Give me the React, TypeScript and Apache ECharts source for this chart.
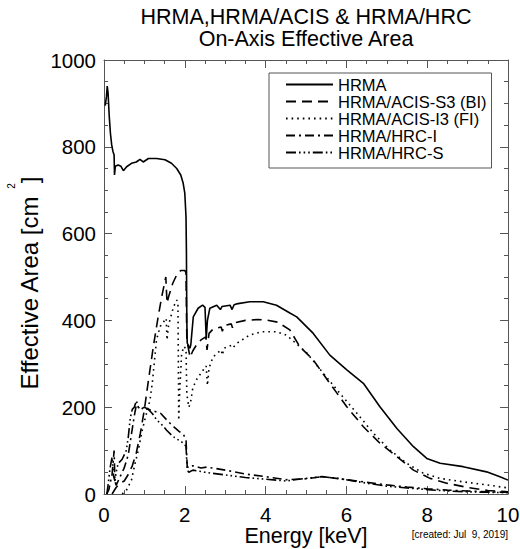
import React, { useEffect, useRef } from "react";
import * as echarts from "echarts";

// Energy [keV] and effective area [cm^2]
const hrmaE = [0.03, 0.06, 0.08, 0.1, 0.13, 0.16, 0.19, 0.22, 0.25, 0.26, 0.28, 0.35, 0.42, 0.48, 0.56, 0.68, 0.8, 0.89, 0.97, 1.1, 1.3, 1.51, 1.67, 1.8, 1.9, 1.96, 2.0, 2.03, 2.04, 2.05, 2.06, 2.1, 2.13, 2.15, 2.21, 2.33, 2.44, 2.5, 2.53, 2.56, 2.62, 2.79, 2.88, 2.92, 3.12, 3.17, 3.22, 3.28, 3.61, 3.94, 4.27, 4.6, 4.77, 5.18, 5.59, 6.01, 6.42, 6.83, 7.25, 7.66, 7.99, 8.32, 8.89, 9.47, 9.8, 10];
const hrmaA = [895, 915, 940, 925, 870, 830, 805, 790, 781, 735, 755, 758, 755, 745, 754, 762, 765, 771, 765, 773, 773, 770, 762, 750, 735, 716, 693, 639, 560, 400, 348, 340, 336, 345, 408, 428, 435, 430, 358, 400, 428, 435, 425, 432, 435, 425, 436, 438, 443, 443, 435, 417, 408, 370, 320, 286, 255, 201, 151, 109, 82, 71, 63, 51, 40, 32];

const acisSE = [0.2, 0.3, 0.4, 0.5, 0.6, 0.7, 0.8, 0.9, 1.0, 1.1, 1.22, 1.34, 1.43, 1.53, 1.56, 1.6, 1.7, 1.8, 1.84, 1.9, 2.0, 2.03, 2.05, 2.1, 2.13, 2.2, 2.3, 2.4, 2.52, 2.55, 2.6, 2.7, 2.9, 2.93, 2.97, 3.15, 3.18, 3.22, 3.5, 3.8, 4.0, 4.3, 4.6, 4.85, 5.18, 5.59, 6.01, 6.42, 6.83, 7.25, 7.66, 8.07, 8.48, 9.0, 9.5, 10];
const acisSA = [0, 15, 25, 30, 45, 65, 95, 140, 195, 262, 339, 408, 455, 500, 440, 455, 485, 505, 510, 515, 515, 510, 355, 330, 315, 330, 345, 355, 362, 332, 370, 380, 385, 375, 388, 392, 383, 394, 400, 402, 401, 396, 378, 339, 309, 255, 201, 155, 117, 86, 55, 36, 25, 15, 8, 5];

const acisIE = [0.45, 0.55, 0.6, 0.68, 0.77, 0.85, 0.93, 1.01, 1.14, 1.2, 1.3, 1.39, 1.5, 1.54, 1.56, 1.6, 1.72, 1.8, 1.83, 1.845, 1.85, 1.87, 1.92, 1.97, 2.03, 2.05, 2.1, 2.14, 2.2, 2.3, 2.45, 2.53, 2.56, 2.6, 2.7, 2.9, 2.93, 2.97, 3.17, 3.2, 3.3, 3.6, 3.9, 4.27, 4.52, 5.02, 5.43, 5.84, 6.26, 6.67, 7.08, 7.49, 7.9, 8.32, 8.89, 9.47, 10];
const acisIA = [0, 8, 17, 32, 71, 101, 140, 171, 217, 260, 355, 386, 400, 405, 355, 390, 431, 447, 440, 250, 170, 230, 320, 340, 335, 230, 200, 210, 245, 265, 285, 295, 250, 290, 316, 332, 320, 336, 343, 338, 348, 366, 374, 374, 366, 325, 278, 232, 186, 140, 101, 71, 48, 36, 28, 21, 14];

const hrcIE = [0.07, 0.12, 0.2, 0.25, 0.27, 0.3, 0.4, 0.5, 0.6, 0.7, 0.75, 0.8, 0.9, 1.0, 1.1, 1.2, 1.4, 1.55, 1.7, 1.85, 1.97, 2.03, 2.06, 2.1, 2.2, 2.4, 2.55, 3.0, 3.5, 4.0, 4.5, 5.0, 5.4, 6.0, 6.5, 7.0, 7.5, 8.0, 8.5, 9.0, 9.5, 10];
const hrcIA = [0, 10, 45, 100, 30, 20, 40, 60, 90, 150, 180, 205, 195, 200, 195, 192, 186, 171, 157, 145, 136, 125, 63, 60, 65, 60, 62, 55, 46, 40, 33, 35, 40, 33, 27, 21, 16, 12, 9, 7, 5, 4];

const hrcSE = [0.07, 0.1, 0.15, 0.2, 0.24, 0.27, 0.3, 0.35, 0.45, 0.55, 0.6, 0.65, 0.7, 0.75, 0.8, 0.85, 0.95, 1.1, 1.2, 1.3, 1.45, 1.55, 1.7, 1.85, 1.97, 2.03, 2.06, 2.1, 2.2, 2.5, 3.0, 3.5, 4.0, 4.5, 5.0, 5.4, 5.8, 6.5, 7.0, 7.5, 8.0, 8.5, 9.0, 9.5, 10];
const hrcSA = [0, 20, 60, 85, 40, 30, 50, 70, 80, 100, 130, 175, 195, 200, 215, 200, 197, 195, 185, 171, 158, 147, 133, 124, 117, 110, 55, 50, 55, 50, 44, 38, 34, 30, 36, 40, 36, 25, 18, 14, 10, 7, 5, 4, 3];

const seriesNames = ["HRMA", "HRMA/ACIS-S3 (BI)", "HRMA/ACIS-I3 (FI)", "HRMA/HRC-I", "HRMA/HRC-S"];
const xTicks = { min: 0, max: 10, interval: 2 };
const yTicks = { min: 0, max: 1000, interval: 200 };

const FONT = "'Liberation Sans', Arial, Helvetica, sans-serif";

function zip(xs: number[], ys: number[]) {
  return xs.map((x, i) => [x, ys[i]]);
}

export default function App() {
  const ref = useRef<HTMLDivElement>(null);
  useEffect(() => {
    if (!ref.current) return;
    const chart = echarts.init(ref.current, undefined, { renderer: "svg" });
    const axisColor = "#555";
    const mkX = (pos: "bottom" | "top", labels: boolean) => ({
      type: "value",
      position: pos,
      min: xTicks.min,
      max: xTicks.max,
      interval: xTicks.interval,
      axisLine: { show: true, onZero: false, lineStyle: { color: axisColor, width: 1 } },
      axisTick: { show: true, inside: true, length: 8, lineStyle: { color: axisColor } },
      minorTick: { show: true, splitNumber: 4, length: 4, lineStyle: { color: axisColor } },
      splitLine: { show: false },
      axisLabel: { show: labels, margin: 10, fontSize: 20.5, color: "#000", fontFamily: FONT, formatter: (v: number) => String(v) },
    });
    const mkY = (pos: "left" | "right", labels: boolean) => ({
      type: "value",
      position: pos,
      min: yTicks.min,
      max: yTicks.max,
      interval: yTicks.interval,
      axisLine: { show: true, onZero: false, lineStyle: { color: axisColor, width: 1 } },
      axisTick: { show: true, inside: true, length: 8, lineStyle: { color: axisColor } },
      minorTick: { show: true, splitNumber: 4, length: 4, lineStyle: { color: axisColor } },
      splitLine: { show: false },
      axisLabel: { show: labels, margin: 8, fontSize: 20.5, color: "#000", fontFamily: FONT, formatter: (v: number) => String(v) },
    });
    const lw = 1.6;
    const dashes: any[] = ["solid", [10, 6], [1.6, 4], [9, 4, 2, 4], [10, 3, 1.6, 3, 1.6, 3, 1.6, 3]];
    const datasets = [zip(hrmaE, hrmaA), zip(acisSE, acisSA), zip(acisIE, acisIA), zip(hrcIE, hrcIA), zip(hrcSE, hrcSA)];
    const series = datasets.map((d, i) => ({
      name: seriesNames[i],
      type: "line",
      data: d,
      symbol: "none",
      showSymbol: false,
      lineStyle: { color: "#000", width: lw, type: dashes[i] },
      itemStyle: { color: "#000" },
      z: 10 - i,
    }));
    chart.setOption({
      animation: false,
      backgroundColor: "#fff",
      grid: { left: 104, right: 12, top: 60, bottom: 55, containLabel: false, outerBoundsMode: "none" },
      xAxis: [mkX("bottom", true), mkX("top", false)],
      yAxis: [mkY("left", true), mkY("right", false)],
      legend: {
        orient: "vertical",
        left: 269,
        top: 73,
        padding: [3, 5, 7, 16],
        itemGap: 0,
        itemWidth: 47,
        itemHeight: 14,
        itemTextGap: 14,
        borderColor: "#555",
        borderWidth: 1,
        backgroundColor: "#fff",
        itemStyle: { opacity: 0, borderWidth: 0 },
        textStyle: { fontSize: 16.5, color: "#000", fontFamily: FONT, lineHeight: 15.5 },
        data: seriesNames,
      },
      graphic: [
        {
          type: "text",
          x: 306,
          y: 17,
          style: { text: "HRMA,HRMA/ACIS & HRMA/HRC", font: `21.5px ${FONT}`, fill: "#000", textAlign: "center", textVerticalAlign: "middle" },
        },
        {
          type: "text",
          x: 306,
          y: 39,
          style: { text: "On-Axis Effective Area", font: `21.5px ${FONT}`, fill: "#000", textAlign: "center", textVerticalAlign: "middle" },
        },
        {
          type: "text",
          x: 29,
          y: 283,
          rotation: Math.PI / 2,
          style: { text: "Effective Area [cm  ]", font: `24px ${FONT}`, fill: "#000", textAlign: "center", textVerticalAlign: "middle" },
        },
        {
          type: "text",
          x: 11,
          y: 186,
          rotation: Math.PI / 2,
          style: { text: "2", font: `10px ${FONT}`, fill: "#000", textAlign: "center", textVerticalAlign: "middle" },
        },
        {
          type: "text",
          x: 306,
          y: 536,
          style: { text: "Energy [keV]", font: `21.5px ${FONT}`, fill: "#000", textAlign: "center", textVerticalAlign: "middle" },
        },
        {
          type: "text",
          x: 508,
          y: 534,
          style: { text: "[created: Jul  9, 2019]", font: `10px ${FONT}`, fill: "#000", textAlign: "right", textVerticalAlign: "middle" },
        },
      ],
      series,
    });
    return () => chart.dispose();
  }, []);
  return <div ref={ref} style={{ position: "fixed", left: 0, top: 0, width: 520, height: 549 }} />;
}
